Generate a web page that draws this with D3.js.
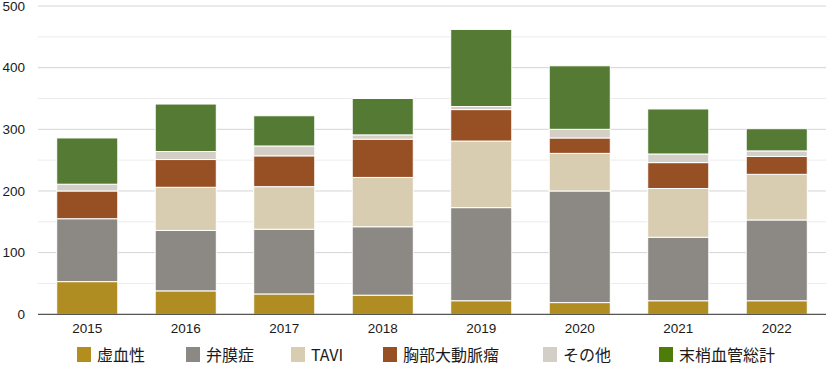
<!DOCTYPE html>
<html><head><meta charset="utf-8">
<script src="https://cdn.jsdelivr.net/npm/d3@7"></script>
<style>
html,body{margin:0;padding:0;background:#fff;}
svg{display:block;font-family:"Liberation Sans",Arial,sans-serif;}
</style></head>
<body><svg id="c" width="827" height="365"></svg>
<script>
const years = ["2015","2016","2017","2018","2019","2020","2021","2022"];
const seriesNames = ["虚血性","弁膜症","TAVI","胸部大動脈瘤","その他","末梢血管総計"];
const ischemic   = [53,38,33,31,22,19,22,22];
const valvular   = [102,98,105,111,151,181,103,131];
const tavi       = [0,70,69,80,108,61,79,74];
const aorta      = [45,45,50,62,51,25,42,29];
const other      = [11,13,16,7,5,14,14,9];
const peripheral = [75,77,49,59,125,103,73,36];
const yTicks = [0,100,200,300,400,500];
const colors = ["#b08d23","#8c8883","#d8cdb0","#974f24","#d3cfc7","#547a34"];
const legendColors = ["#b38e1e","#8c8883","#d8cdb0","#974f24","#d3cfc7","#4e7c08"];

const seriesVals = [ischemic,valvular,tavi,aorta,other,peripheral];
const rows = years.map((yr,i)=>{const r={year:yr}; seriesNames.forEach((s,k)=>r[s]=seriesVals[k][i]); return r;});
const stackData = d3.stack().keys(seriesNames)(rows);

const svg = d3.select("#c");
const pL=38, pR=826, pT=6, pB=314.3;
const x = d3.scaleBand().domain(years).range([pL,pR]).paddingInner(0.38).paddingOuter(0.19);
const y = d3.scaleLinear().domain([0,500]).range([pB,pT]);

// grid
const g = svg.append("g");
d3.range(50,501,50).forEach(v=>{
  g.append("line").attr("x1",pL).attr("x2",pR).attr("y1",y(v)).attr("y2",y(v))
   .attr("stroke", v%100===0 ? "#d4d4d4" : "#ececec").attr("stroke-width",1);
});

// bars
svg.append("g").selectAll("g").data(stackData).join("g")
  .attr("fill",(d,i)=>colors[i])
  .selectAll("rect").data(d=>d.filter(p=>p[1]-p[0]>0)).join("rect")
  .attr("x",d=>x(d.data.year)).attr("width",x.bandwidth())
  .attr("y",d=>y(d[1])).attr("height",d=>y(d[0])-y(d[1]))
  .attr("stroke","#fff").attr("stroke-width",1);

// baseline
svg.append("line").attr("x1",pL).attr("x2",pR).attr("y1",y(0)).attr("y2",y(0))
  .attr("stroke","#555").attr("stroke-width",1.2);

// y axis labels
const ya = svg.append("g").attr("transform",`translate(25,0)`)
  .call(d3.axisLeft(y).tickValues(yTicks).tickSize(0).tickPadding(0));
ya.select(".domain").remove();
ya.selectAll("text").attr("font-size",13.5).attr("fill","#1a1a1a").attr("font-family","Liberation Sans, Arial, sans-serif");

// x axis labels
const xa = svg.append("g").attr("transform",`translate(0,${pB})`)
  .call(d3.axisBottom(x).tickSize(0).tickPadding(9));
xa.select(".domain").remove();
xa.selectAll("text").attr("font-size",13.5).attr("fill","#1a1a1a").attr("font-family","Liberation Sans, Arial, sans-serif");

// legend
const legX = [77,186,291,383,543,659];
const lg = svg.append("g");
seriesNames.forEach((s,i)=>{
  lg.append("rect").attr("x",legX[i]).attr("y",347).attr("width",14).attr("height",15).attr("fill",legendColors[i]);
  lg.append("text").attr("x",legX[i]+20).attr("y",361).attr("font-size",16).attr("fill","#1a1a1a")
    .attr("font-family","'Noto Sans CJK JP', 'Liberation Sans', sans-serif").text(s);
});
</script></body></html>
